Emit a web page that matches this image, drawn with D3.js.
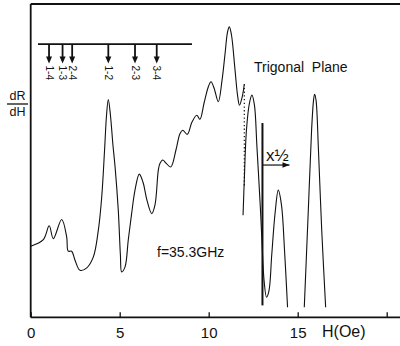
<!DOCTYPE html>
<html>
<head>
<meta charset="utf-8">
<script src="https://cdn.jsdelivr.net/npm/d3@7"></script>
<style>
  html, body { margin: 0; padding: 0; background: #fff; }
  svg { display: block; font-family: "Liberation Sans", Arial, Helvetica, sans-serif; }
</style>
</head>
<body>
<svg id="chart" width="400" height="346"></svg>
<script>
// ---- data (H in Oe, dR/dH in arbitrary units) ----
const xTicks = [0, 5, 10, 15, 20];
const xTickLabels = ["0", "5", "10", "15", ""];

const mainSegment = [
  [0.00,22.7],[0.71,24.8],[1.04,29.2],[1.27,25.1],[1.74,31.2],[2.02,25.7],[2.11,21.1],
  [2.30,21.1],[2.49,18.2],[2.77,15.0],[3.15,15.8],[3.52,19.3],[3.80,27.8],[3.99,38.4],
  [4.15,53.4],[4.26,64.5],[4.36,69.5],[4.48,64.5],[4.62,55.0],[4.74,48.0],[4.92,34.2],
  [5.04,19.8],[5.11,14.5],[5.30,16.1],[5.48,24.6],[5.67,33.1],[5.86,40.6],[6.10,45.7],
  [6.31,43.1],[6.53,37.4],[6.80,33.1],[6.98,35.8],[7.17,47.0],[7.26,49.1],[7.42,50.2],
  [7.60,49.2],[7.87,48.0],[8.16,53.4],[8.39,58.7],[8.54,59.7],[8.80,58.4],[9.06,62.3],
  [9.33,64.5],[9.51,63.2],[9.74,68.4],[9.98,73.6],[10.13,75.2],[10.30,73.2],[10.54,68.8],
  [10.75,75.7],[10.92,84.2],[11.06,91.1],[11.16,92.7],[11.28,90.1],[11.48,78.9],
  [11.62,70.9],[11.73,67.7],[11.88,70.3],[12.00,74.4]
];
const halfSegment = [
  [11.93,32.6],[12.00,43.8],[12.12,59.7],[12.29,68.4],[12.43,70.9],[12.57,67.7],
  [12.71,54.4],[12.90,35.2],[12.99,24.6],[13.11,11.8],[13.25,6.4],[13.39,8.6],
  [13.54,19.8],[13.73,33.3],[13.91,40.6],[14.09,35.8],[14.26,21.4],[14.43,3.2]
];
const lastSegment = [
  [15.37,3.2],[15.59,33.3],[15.78,59.7],[15.89,69.3],[15.95,71.2],[16.03,69.3],
  [16.16,54.3],[16.35,27.8],[16.57,3.2]
];
const dottedLine = [[12.00,74.4],[12.00,41.5]];
const scaleMarker = [[13.02,62.0],[13.02,3.8]];
const scaleArrow = [[13.02,48.6],[14.54,48.6]];

const transitionH = [1.03, 1.79, 2.33, 4.36, 5.86, 7.08];
const transitionLabels = ["1-4", "1-3", "2-4", "1-2", "2-3", "3-4"];
const transitionBar = [0.41, 9.06];
const transitionBarV = 87.2;
const transitionTipV = 81.0;

// ---- drawing ----
const svg = d3.select("#chart");
const W = 400;
const x = d3.scaleLinear().domain([0, 20]).range([30.7, 386.7]);
const y = d3.scaleLinear().domain([0, 100]).range([317.3, 4]);

const line = d3.line().x(d => x(d[0])).y(d => y(d[1])).curve(d3.curveCatmullRom.alpha(0.5));
const straight = d3.line().x(d => x(d[0])).y(d => y(d[1]));

// frame: left axis and top line
svg.append("line").attr("x1", x(0)).attr("x2", x(0)).attr("y1", y(100)).attr("y2", y(0))
  .attr("stroke", "#111").attr("stroke-width", 1.8);
svg.append("line").attr("x1", x(0)).attr("x2", W).attr("y1", y(100)).attr("y2", y(100))
  .attr("stroke", "#111").attr("stroke-width", 1.8);

// bottom axis
const axis = d3.axisBottom(x).tickValues(xTicks).tickSize(-5).tickPadding(10)
  .tickFormat((d, i) => xTickLabels[i]);
const gx = svg.append("g").attr("transform", `translate(0,${y(0)})`).call(axis);
gx.select(".domain").remove();
gx.selectAll(".tick line").attr("stroke", "#111").attr("stroke-width", 1.3);
gx.selectAll(".tick text").attr("fill", "#111").style("font-size", "15px");
svg.append("line").attr("x1", x(0)).attr("x2", W).attr("y1", y(0)).attr("y2", y(0))
  .attr("stroke", "#111").attr("stroke-width", 1.8);
svg.append("text").attr("x", 322).attr("y", y(0) + 20).attr("fill", "#111")
  .style("font-size", "16px").text("H(Oe)");

// y label dR/dH
svg.append("text").attr("x", 17.5).attr("y", 100.3).attr("text-anchor", "middle")
  .style("font-size", "12.5px").attr("fill", "#111").text("dR");
svg.append("line").attr("x1", 7).attr("x2", 28).attr("y1", 104).attr("y2", 104)
  .attr("stroke", "#111").attr("stroke-width", 1.3);
svg.append("text").attr("x", 17.5).attr("y", 115.5).attr("text-anchor", "middle")
  .style("font-size", "12.5px").attr("fill", "#111").text("dH");

// curves
[mainSegment, halfSegment, lastSegment].forEach(seg => {
  svg.append("path").attr("d", line(seg)).attr("fill", "none")
    .attr("stroke", "#111").attr("stroke-width", 1.1).attr("stroke-linejoin", "round");
});
svg.append("path").attr("d", straight(dottedLine)).attr("fill", "none")
  .attr("stroke", "#111").attr("stroke-width", 1.2).attr("stroke-dasharray", "1.3,2.4");

// x1/2 marker
svg.append("path").attr("d", straight(scaleMarker)).attr("stroke", "#111").attr("stroke-width", 2);
svg.append("path").attr("d", straight(scaleArrow)).attr("stroke", "#111").attr("stroke-width", 1.2);
const ae = scaleArrow[1];
svg.append("path")
  .attr("d", `M${x(ae[0])},${y(ae[1])} l-7,-2.8 l0,5.6 z`)
  .attr("fill", "#111");
svg.append("text").attr("x", x(13.02) + 3.5).attr("y", y(48.6) - 4)
  .attr("fill", "#111").style("font-size", "17px").text("x½");

// transition markers
svg.append("line").attr("x1", x(transitionBar[0])).attr("x2", x(transitionBar[1]))
  .attr("y1", y(transitionBarV)).attr("y2", y(transitionBarV))
  .attr("stroke", "#111").attr("stroke-width", 1.8);
transitionH.forEach((h, i) => {
  const px = x(h), top = y(transitionBarV), tip = y(transitionTipV);
  svg.append("line").attr("x1", px).attr("x2", px).attr("y1", top).attr("y2", tip - 5)
    .attr("stroke", "#111").attr("stroke-width", 1.8);
  svg.append("path").attr("d", `M${px},${tip} l-3,-7 l6,0 z`).attr("fill", "#111");
  svg.append("text").attr("transform", `translate(${px - 3.5},${tip + 2}) rotate(90)`)
    .attr("fill", "#111").style("font-size", "10px").text(transitionLabels[i]);
});

// annotations
svg.append("text").attr("x", 254).attr("y", 72).attr("fill", "#111")
  .style("font-size", "14px").style("white-space", "pre").text("Trigonal  Plane");
svg.append("text").attr("x", 157).attr("y", 257).attr("fill", "#111")
  .style("font-size", "14px").text("f=35.3GHz");
</script>
</body>
</html>
